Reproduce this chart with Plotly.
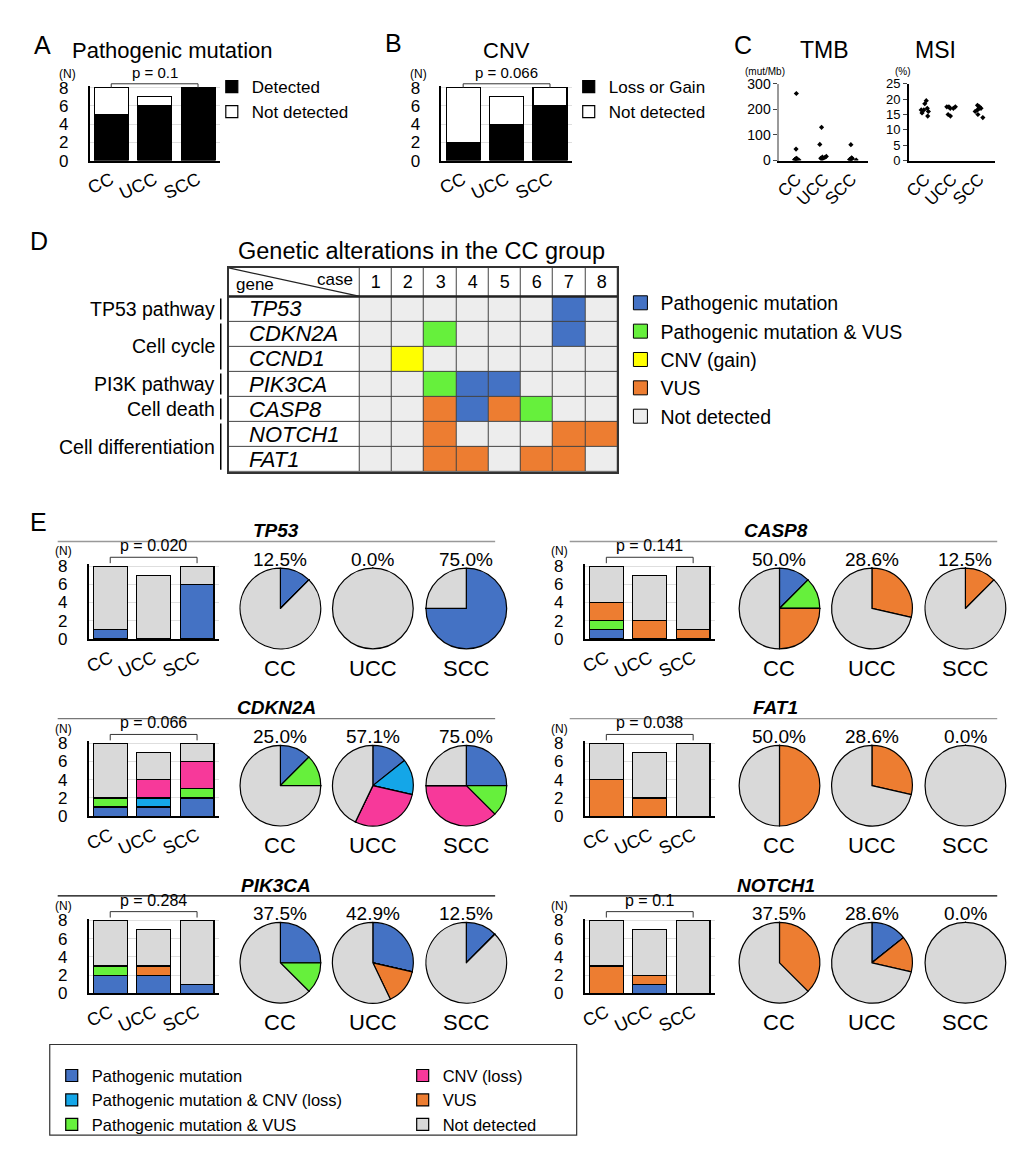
import plotly.graph_objects as go

W, H = 1035, 1150

# ---------------- data ----------------
groups = ['CC', 'UCC', 'SCC']

# A: pathogenic mutation (N)
pathogenic_detected = [5, 6, 8]
pathogenic_not_detected = [3, 1, 0]

# B: CNV (N)
cnv_loss_or_gain = [2, 4, 6]
cnv_not_detected = [6, 3, 2]

# C: TMB (mut/Mb) and MSI (%)
tmb_cc = [262, 45, 9, 7, 5, 4, 3, 2]
tmb_ucc = [130, 63, 16, 14, 12, 9, 5]
tmb_scc = [62, 11, 8, 6, 5, 4, 3, 2]
msi_cc = [19.5, 18.5, 17, 16.5, 16.5, 16, 15.5, 14.5]
msi_ucc = [17.5, 17.5, 17.5, 17, 17, 15, 14.5]
msi_scc = [18, 17.5, 17, 17, 16.5, 16, 15, 14]

# D: genetic alterations in the CC group ('-' none, P, PV, G gain, V VUS)
cases = ['1', '2', '3', '4', '5', '6', '7', '8']
d_genes = ['TP53', 'CDKN2A', 'CCND1', 'PIK3CA', 'CASP8', 'NOTCH1', 'FAT1']
tp53_cc = ['-', '-', '-', '-', '-', '-', 'P', '-']
cdkn2a_cc = ['-', '-', 'PV', '-', '-', '-', 'P', '-']
ccnd1_cc = ['-', 'G', '-', '-', '-', '-', '-', '-']
pik3ca_cc = ['-', '-', 'PV', 'P', 'P', '-', '-', '-']
casp8_cc = ['-', '-', 'V', 'P', 'V', 'PV', '-', '-']
notch1_cc = ['-', '-', 'V', '-', '-', '-', 'V', 'V']
fat1_cc = ['-', '-', 'V', 'V', '-', 'V', 'V', '-']
pathways = ['TP53 pathway', 'Cell cycle', 'PI3K pathway', 'Cell death', 'Cell differentiation']
pathway_rows = [1, 2, 1, 1, 2]
d_codes = ['P', 'PV', 'G', 'V', '-']
d_status = ['Pathogenic mutation', 'Pathogenic mutation & VUS', 'CNV (gain)', 'VUS', 'Not detected']

# E: counts per alteration type (rows) for CC / UCC / SCC
alt_types = ['Pathogenic mutation', 'Pathogenic mutation & CNV (loss)',
             'Pathogenic mutation & VUS', 'CNV (loss)', 'VUS', 'Not detected']
tp53_counts = [[1, 0, 6], [0, 0, 0], [0, 0, 0], [0, 0, 0], [0, 0, 0], [7, 7, 2]]
casp8_counts = [[1, 0, 0], [0, 0, 0], [1, 0, 0], [0, 0, 0], [2, 2, 1], [4, 5, 7]]
cdkn2a_counts = [[1, 1, 2], [0, 1, 0], [1, 0, 1], [0, 2, 3], [0, 0, 0], [6, 3, 2]]
fat1_counts = [[0, 0, 0], [0, 0, 0], [0, 0, 0], [0, 0, 0], [4, 2, 0], [4, 5, 8]]
pik3ca_counts = [[2, 2, 1], [0, 0, 0], [1, 0, 0], [0, 0, 0], [0, 1, 0], [5, 4, 7]]
notch1_counts = [[0, 1, 0], [0, 0, 0], [0, 0, 0], [0, 0, 0], [3, 1, 0], [5, 5, 8]]
e_genes = ['TP53', 'CASP8', 'CDKN2A', 'FAT1', 'PIK3CA', 'NOTCH1']
e_pvalues = ['0.020', '0.141', '0.066', '0.038', '0.284', '0.1']

# ---------------- styles ----------------
BLUE = '#4472C4'
CYAN = '#14A6E8'
GREEN = '#66F03C'
PINK = '#F7399A'
ORANGE = '#ED7D31'
GREY = '#D9D9D9'
alt_colors = [BLUE, CYAN, GREEN, PINK, ORANGE, GREY]
d_colors = {'P': BLUE, 'PV': GREEN, 'G': '#FFFF00', 'V': ORANGE, '-': '#EDEDED'}
FONT = 'Liberation Sans, Arial, sans-serif'
UNIT = 9.25  # px per count on the bar panels


def px(x):
    return x / W


def py(y):
    return 1 - y / H


def dom_x(a, b):
    return [a / W, b / W]


def dom_y(top, bottom):
    return [1 - bottom / H, 1 - top / H]


def axis_ids(n):
    s = '' if n == 1 else str(n)
    return 'x' + s, 'y' + s, 'xaxis' + s, 'yaxis' + s


fig = go.Figure()
axes = {}
shapes = []
annotations = []


def note(text, x, y, size, xanchor='center', yanchor='middle', **kw):
    annotations.append(dict(text=text, x=px(x), y=py(y), xref='paper', yref='paper',
                            xanchor=xanchor, yanchor=yanchor, showarrow=False,
                            font=dict(size=size), **kw))


def hline(x0, x1, y, color='black', width=1):
    shapes.append(dict(type='line', xref='paper', yref='paper', x0=px(x0), x1=px(x1),
                       y0=py(y), y1=py(y), line=dict(color=color, width=width)))


def count_axes(n, left, right, zero):
    xn, yn, xk, yk = axis_ids(n)
    axes[xk] = dict(domain=dom_x(left, right), anchor=yn, type='category',
                    categoryorder='array', categoryarray=groups, range=[-0.5, 2.5],
                    showline=True, linecolor='black', linewidth=2, ticks='',
                    tickangle=-25, tickfont=dict(size=18), showgrid=False)
    axes[yk] = dict(domain=dom_y(zero - 8.2 * UNIT, zero), anchor=xn, range=[0, 8.2],
                    tickvals=[0, 2, 4, 6, 8], showgrid=True, gridcolor='#dedede',
                    showline=True, linecolor='black', linewidth=1.5, ticks='',
                    ticklabelstandoff=16, tickfont=dict(size=17), zeroline=False)
    return xn, yn


def p_bracket(xn, text, top, tip, size):
    for x0, x1, y0, y1 in [(0, 2, top, top), (0, 0, top, tip), (2, 2, top, tip)]:
        shapes.append(dict(type='line', xref=xn, yref='paper', x0=x0, x1=x1,
                           y0=py(y0), y1=py(y1), line=dict(color='#333', width=1)))
    annotations.append(dict(text='p = ' + text, x=1, y=py(top - 1), xref=xn, yref='paper',
                            xanchor='center', yanchor='bottom', showarrow=False,
                            font=dict(size=size)))


# ---------------- A ----------------
xa, ya = count_axes(1, 84, 215, 155)
fig.add_trace(go.Bar(x=groups, y=pathogenic_detected, name='Detected', xaxis=xa, yaxis=ya,
                     marker=dict(color='black', line=dict(color='black', width=1.2)),
                     legend='legend'))
fig.add_trace(go.Bar(x=groups, y=pathogenic_not_detected, name='Not detected', xaxis=xa, yaxis=ya,
                     marker=dict(color='white', line=dict(color='black', width=1.2)),
                     legend='legend'))
p_bracket(xa, '0.1', 77, 81, 15)
note('A', 37, 38, 25)
note('Pathogenic mutation', 167, 43, 22)
note('(N)', 62, 67, 12)

# ---------------- B ----------------
xb, yb = count_axes(2, 438, 569, 155)
fig.add_trace(go.Bar(x=groups, y=cnv_loss_or_gain, name='Loss or Gain', xaxis=xb, yaxis=yb,
                     marker=dict(color='black', line=dict(color='black', width=1.2)),
                     legend='legend2'))
fig.add_trace(go.Bar(x=groups, y=cnv_not_detected, name='Not detected', xaxis=xb, yaxis=yb,
                     marker=dict(color='white', line=dict(color='black', width=1.2)),
                     legend='legend2'))
p_bracket(xb, '0.066', 77, 81, 15)
note('B', 390, 36, 25)
note('CNV', 503, 43, 22)
note('(N)', 415, 67, 12)

# ---------------- C ----------------
for n, series, left, right, y_max, dtick in [
        (3, (tmb_cc, tmb_ucc, tmb_scc), 778, 867, 300, 100),
        (4, (msi_cc, msi_ucc, msi_scc), 908, 995, 25, 5)]:
    xn, yn, xk, yk = axis_ids(n)
    xs, ys = [], []
    for g, vals in zip(groups, series):
        xs += [g] * len(vals)
        ys += vals
    fig.add_trace(go.Box(x=xs, y=ys, boxpoints='all', jitter=0.8, pointpos=0,
                         fillcolor='rgba(0,0,0,0)', line=dict(width=0, color='black'),
                         marker=dict(color='black', size=4, symbol='diamond'),
                         xaxis=xn, yaxis=yn, showlegend=False))
    axes[xk] = dict(domain=dom_x(left, right), anchor=yn, type='category',
                    categoryorder='array', categoryarray=groups, range=[-0.6, 2.6],
                    showline=True, linecolor='black', linewidth=2, ticks='',
                    tickangle=-45, tickfont=dict(size=17))
    axes[yk] = dict(domain=dom_y(77, 155), anchor=xn, range=[0, y_max], dtick=dtick,
                    showline=True, linecolor='#9a9a9a' if n == 3 else 'black',
                    linewidth=2 if n == 3 else 1.5, ticks='outside', ticklen=4,
                    tickfont=dict(size=14 if n == 3 else 13), showgrid=False, zeroline=False)
note('C', 741, 38, 25)
note('TMB', 823, 43, 23)
note('MSI', 935, 43, 23)
note('(mut/Mb)', 763, 65, 10)
note('(%)', 902, 65, 10)

# ---------------- D ----------------
GENE_W, HEAD_H = 4.07, 1.14
d_rows = [tp53_cc, cdkn2a_cc, ccnd1_cc, pik3ca_cc, casp8_cc, notch1_cc, fat1_cc]
code_index = {c: i for i, c in enumerate(d_codes)}
n_codes = len(d_codes) + 1  # last one: white label cells
scale = []
for i, c in enumerate([d_colors[k] for k in d_codes] + ['white']):
    scale += [[i / n_codes, c], [(i + 1) / n_codes, c]]
z = [[n_codes - 1] * 9] + [[n_codes - 1] + [code_index[c] for c in row] for row in d_rows]
txt = [[''] + cases] + [[''] * 9 for _ in d_rows]
fig.add_trace(go.Heatmap(x=[-GENE_W] + list(range(9)), y=[-HEAD_H] + list(range(8)),
                         z=z, text=txt, texttemplate='%{text}',
                         textfont=dict(size=18, color='black'),
                         colorscale=scale, zmin=-0.5, zmax=n_codes - 0.5, showscale=False,
                         xgap=1, ygap=1, hoverinfo='skip', xaxis='x5', yaxis='y5'))
axes['xaxis5'] = dict(domain=dom_x(224, 615), anchor='y5', range=[-GENE_W, 8],
                      showline=True, mirror=True, linecolor='#333', linewidth=1.5,
                      showticklabels=False, ticks='', showgrid=False, zeroline=False)
axes['yaxis5'] = dict(domain=dom_y(264, 471), anchor='x5', range=[7, -HEAD_H],
                      showline=True, mirror=True, linecolor='#333', linewidth=1.5,
                      showticklabels=False, ticks='', showgrid=False, zeroline=False)
shapes.append(dict(type='rect', xref='x5 domain', yref='y5 domain', x0=0, x1=1, y0=0, y1=1,
                   fillcolor='#444', line=dict(width=0), layer='below'))
shapes.append(dict(type='line', xref='x5', yref='y5', x0=-GENE_W, x1=8, y0=0, y1=0,
                   line=dict(color='#222', width=2.5)))
shapes.append(dict(type='line', xref='x5', yref='y5', x0=-GENE_W, x1=0, y0=-HEAD_H, y1=0,
                   line=dict(color='#222', width=1.2)))
annotations.append(dict(text='gene', x=-GENE_W, y=0, xref='x5', yref='y5', xanchor='left',
                        yanchor='bottom', xshift=5, showarrow=False, font=dict(size=17)))
annotations.append(dict(text='case', x=0, y=-HEAD_H, xref='x5', yref='y5', xanchor='right',
                        yanchor='top', xshift=-5, showarrow=False, font=dict(size=17)))
for i, g in enumerate(d_genes):
    annotations.append(dict(text='<i>%s</i>' % g, x=-GENE_W, y=i + 0.5, xref='x5', yref='y5',
                            xanchor='left', yanchor='middle', xshift=18, showarrow=False,
                            font=dict(size=22)))
row0 = 0
for name, nrows in zip(pathways, pathway_rows):
    annotations.append(dict(text=name, x=px(212), y=row0 + nrows / 2, xref='paper', yref='y5',
                            xanchor='right', yanchor='middle', showarrow=False,
                            font=dict(size=19.5)))
    shapes.append(dict(type='line', xref='paper', yref='y5', x0=px(216), x1=px(216),
                       y0=row0 + 0.08, y1=row0 + nrows - 0.08,
                       line=dict(color='black', width=1.5)))
    row0 += nrows
for code, label in zip(d_codes, d_status):
    fig.add_trace(go.Scatter(x=[None], y=[None], mode='markers', name=label,
                             marker=dict(symbol='square', size=14, color=d_colors[code],
                                         line=dict(color='black', width=1)),
                             xaxis='x5', yaxis='y5', legend='legend3'))
note('D', 33, 237, 25)
note('Genetic alterations in the CC group', 418, 247, 23.5)

# ---------------- E ----------------
e_counts = [tp53_counts, casp8_counts, cdkn2a_counts, fat1_counts, pik3ca_counts, notch1_counts]
e_grid = [(0, 0), (1, 0), (0, 1), (1, 1), (0, 2), (1, 2)]
col_dx = [0, 499]
row_dy = [0, 180, 360]
title_lines = [(52, 492), (567, 997)]
line_colors = ['#999999', '#999999', '#777777', '#999999', 'black', 'black']
pie_cx = [276, 369, 463]
R = 41

for i, gene in enumerate(e_genes):
    col, row = e_grid[i]
    dx, dy = col_dx[col], row_dy[row]
    counts = e_counts[i]
    xn, yn = count_axes(6 + i, 83 + dx, 214 + dx, 641 + dy)
    for k, alt in enumerate(alt_types):
        fig.add_trace(go.Bar(x=groups, y=counts[k], name=alt, xaxis=xn, yaxis=yn,
                             marker=dict(color=alt_colors[k], line=dict(color='black', width=1.2)),
                             showlegend=(i == 0), legend='legend4' if k < 3 else 'legend5'))
    p_bracket(xn, e_pvalues[i], 558 + dy, 564 + dy, 16)
    note('<b><i>%s</i></b>' % gene, 272 + dx + 3 * col, 531 + dy, 19)
    hline(title_lines[col][0], title_lines[col][1], 542 + dy, line_colors[i], 1.3)
    note('(N)', 58 + dx, 552 + dy, 12)
    for j, g in enumerate(groups):
        vals = [counts[k][j] for k in range(len(alt_types))]
        cx, cy = pie_cx[j] + dx + 3 * col, 610 + dy
        fig.add_trace(go.Pie(values=vals, labels=alt_types, sort=False, direction='clockwise',
                             rotation=0, textinfo='none', showlegend=False,
                             marker=dict(colors=alt_colors, line=dict(color='black', width=1.2)),
                             domain=dict(x=dom_x(cx - R, cx + R), y=dom_y(cy - R, cy + R))))
        pct = 100 * (sum(vals) - vals[-1]) / sum(vals)
        note('%.1f%%' % pct, cx, 560 + dy, 19)
        note(g, cx, 671 + dy, 22)
note('E', 33, 522, 25)
shapes.append(dict(type='rect', xref='paper', yref='paper', x0=px(44), x1=px(574),
                   y0=py(1145), y1=py(1053), line=dict(color='#333', width=1.2)))

leg = dict(xanchor='left', yanchor='top', bgcolor='rgba(0,0,0,0)', traceorder='normal',
           tracegroupgap=0)
fig.update_layout(
    width=W, height=H, margin=dict(l=0, r=0, t=0, b=0),
    paper_bgcolor='white', plot_bgcolor='white',
    font=dict(family=FONT, size=14, color='black'),
    barmode='stack', bargap=0.22, showlegend=True,
    legend=dict(x=px(207), y=py(62), font=dict(size=17), **leg),
    legend2=dict(x=px(566), y=py(62), font=dict(size=17), **leg),
    legend3=dict(x=px(618), y=py(280), font=dict(size=19.5), **leg),
    legend4=dict(x=px(46), y=py(1067), font=dict(size=16.5), **leg),
    legend5=dict(x=px(399), y=py(1067), font=dict(size=16.5), **leg),
    shapes=shapes, annotations=annotations, **axes)

fig.write_html("out.html", config={'displayModeBar': False},
               post_script="document.body.style.margin = '0';")
